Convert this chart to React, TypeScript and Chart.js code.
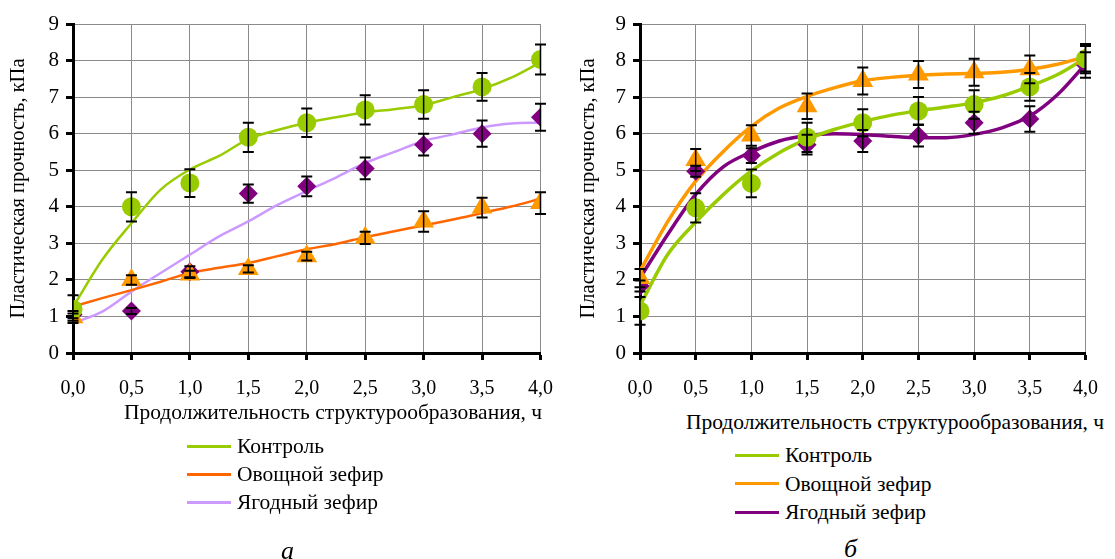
import React, { useEffect, useRef } from "react";
import { Chart, registerables } from "chart.js";

Chart.register(...registerables);

// ---------- data ----------
const xPoints = [0, 0.5, 1, 1.5, 2, 2.5, 3, 3.5, 4];
const xTrend = [0, 0.25, 0.5, 0.75, 1, 1.25, 1.5, 1.75, 2, 2.25, 2.5, 2.75, 3, 3.25, 3.5, 3.75, 4];

const seriesNames = ["Контроль", "Овощной зефир", "Ягодный зефир"];
const yAxisTitle = "Пластическая прочность, кПа";
const xAxisTitle = "Продолжительность структурообразования, ч";

// Panel а — measured points and error values
const aControl = [1.2, 4.0, 4.65, 5.9, 6.3, 6.65, 6.8, 7.28, 8.03];
const aControlErr = [0.38, 0.4, 0.38, 0.4, 0.39, 0.4, 0.39, 0.38, 0.41];
const aVeg = [0.98, 2.0, 2.15, 2.3, 2.65, 3.15, 3.6, 3.98, 4.1];
const aVegErr = [0.1, 0.13, 0.1, 0.1, 0.12, 0.17, 0.28, 0.27, 0.3];
const aBerry = [1.05, 1.15, 2.22, 4.36, 4.56, 5.05, 5.7, 6.0, 6.45];
const aBerryErr = [0.1, 0.08, 0.15, 0.25, 0.27, 0.3, 0.3, 0.36, 0.37];

// Panel а — trend lines
const aControlTrend = [1.26, 2.55, 3.55, 4.47, 5.02, 5.39, 5.85, 6.1, 6.3, 6.45, 6.58, 6.67, 6.78, 7.0, 7.22, 7.53, 7.95];
const aVegTrend = [1.27, 1.5, 1.72, 1.95, 2.19, 2.33, 2.46, 2.65, 2.84, 2.98, 3.17, 3.33, 3.49, 3.65, 3.83, 4.01, 4.22];
const aBerryTrend = [0.82, 1.13, 1.68, 2.19, 2.69, 3.19, 3.6, 4.05, 4.43, 4.8, 5.2, 5.5, 5.8, 5.98, 6.17, 6.28, 6.3];

// Panel б — measured points and error values
const bControl = [1.15, 3.97, 4.64, 5.9, 6.3, 6.62, 6.8, 7.28, 8.05];
const bControlErr = [0.38, 0.4, 0.38, 0.4, 0.37, 0.38, 0.39, 0.38, 0.4];
const bVeg = [2.05, 5.28, 5.95, 6.75, 7.44, 7.62, 7.68, 7.76, 8.05];
const bVegErr = [0.25, 0.3, 0.28, 0.35, 0.37, 0.37, 0.37, 0.38, 0.35];
const bBerry = [1.83, 4.97, 5.4, 5.7, 5.8, 5.95, 6.3, 6.4, 7.88];
const bBerryErr = [0.15, 0.15, 0.2, 0.27, 0.3, 0.3, 0.3, 0.35, 0.35];

// Panel б — trend lines
const bControlTrend = [1.3, 2.7, 3.58, 4.34, 4.98, 5.48, 5.85, 6.12, 6.33, 6.5, 6.63, 6.73, 6.85, 7.03, 7.3, 7.62, 8.07];
const bVegTrend = [2.24, 3.6, 4.7, 5.52, 6.2, 6.7, 7.02, 7.26, 7.45, 7.54, 7.6, 7.63, 7.65, 7.68, 7.76, 7.9, 8.1];
const bBerryTrend = [2.05, 3.25, 4.34, 5.1, 5.5, 5.8, 5.95, 6.0, 5.98, 5.93, 5.89, 5.89, 5.98, 6.16, 6.48, 7.07, 7.9];

// ---------- colours ----------
const GREEN = "#99CC00";
const ORANGE_MARK = "#FF9900";
const ORANGE_LINE_A = "#FF6600";
const LAVENDER = "#CC99FF";
const PURPLE = "#800080";

const FONT = "'Liberation Serif', 'DejaVu Serif', serif";

const toXY = (xs: number[], ys: number[]) => xs.map((x, i) => ({ x, y: ys[i] }));

const errorBarPlugin = {
  id: "errorBars",
  afterDatasetsDraw(chart: any) {
    const ctx = chart.ctx;
    const yScale = chart.scales.y;
    const xScale = chart.scales.x;
    ctx.save();
    ctx.strokeStyle = "#000";
    chart.data.datasets.forEach((ds: any) => {
      if (!ds.errors) return;
      ds.data.forEach((p: any, i: number) => {
        const e = ds.errors[i];
        if (!e) return;
        const px = xScale.getPixelForValue(p.x);
        const yt = yScale.getPixelForValue(p.y + e);
        const yb = yScale.getPixelForValue(p.y - e);
        ctx.lineWidth = 1.5;
        ctx.beginPath();
        ctx.moveTo(px, yt);
        ctx.lineTo(px, yb);
        ctx.stroke();
        ctx.lineWidth = 2;
        ctx.beginPath();
        ctx.moveTo(px - 5.5, yt);
        ctx.lineTo(px + 5.5, yt);
        ctx.moveTo(px - 5.5, yb);
        ctx.lineTo(px + 5.5, yb);
        ctx.stroke();
      });
    });
    ctx.restore();
  },
};

function makeConfig(
  points: { data: number[]; err: number[]; color: string; style: string; radius: number }[],
  trends: { data: number[]; color: string }[],
  lineWidth: number,
  yAxisWidth: number
) {
  const datasets: any[] = [];
  points.forEach((p) => {
    datasets.push({
      type: "line",
      data: toXY(xPoints, p.data),
      errors: p.err,
      showLine: false,
      pointStyle: p.style,
      pointRadius: p.radius,
      pointBackgroundColor: p.color,
      pointBorderColor: p.color,
      pointBorderWidth: 0,
      borderColor: p.color,
    });
  });
  trends.forEach((t) => {
    datasets.push({
      type: "line",
      data: toXY(xTrend, t.data),
      borderColor: t.color,
      borderWidth: lineWidth,
      pointRadius: 0,
      tension: 0.4,
      cubicInterpolationMode: "monotone",
      fill: false,
    });
  });
  return {
    type: "line",
    data: { datasets },
    plugins: [errorBarPlugin],
    options: {
      animation: false,
      responsive: false,
      events: [],
      layout: { padding: { top: 24, right: 21, left: 0, bottom: 0 } },
      plugins: { legend: { display: false }, tooltip: { enabled: false } },
      scales: {
        x: {
          type: "linear",
          min: 0,
          max: 4,
          afterFit: (s: any) => {
            s.height = 47;
          },
          ticks: {
            stepSize: 0.5,
            color: "#000",
            padding: 17,
            maxRotation: 0,
            font: { family: FONT, size: 20 },
            callback: (v: number) => v.toFixed(1).replace(".", ","),
          },
          grid: { color: "#8a8a8a", lineWidth: 1, tickColor: "#000", tickWidth: 3, tickLength: 7 },
          border: { display: true, color: "#000", width: 3 },
        },
        y: {
          min: 0,
          max: 9,
          afterFit: (s: any) => {
            s.width = yAxisWidth;
          },
          ticks: {
            stepSize: 1,
            color: "#000",
            padding: 7,
            font: { family: FONT, size: 21 },
          },
          title: {
            display: true,
            text: yAxisTitle,
            color: "#000",
            padding: { top: 6, bottom: 0 },
            font: { family: FONT, size: 20.5, weight: "normal" },
          },
          grid: { color: "#8a8a8a", lineWidth: 1, tickColor: "#000", tickWidth: 3, tickLength: 7 },
          border: { display: true, color: "#000", width: 3 },
        },
      },
    },
  };
}

function ChartCanvas({ config, left, width }: { config: any; left: number; width: number }) {
  const ref = useRef<HTMLCanvasElement>(null);
  useEffect(() => {
    if (!ref.current) return;
    const chart = new Chart(ref.current, config);
    return () => chart.destroy();
  }, []);
  return (
    <canvas
      ref={ref}
      width={width}
      height={400}
      style={{ position: "absolute", left, top: 0, width, height: 400 }}
    />
  );
}

const textStyle: React.CSSProperties = {
  position: "absolute",
  fontFamily: FONT,
  fontSize: 21.5,
  color: "#000",
  whiteSpace: "nowrap",
  lineHeight: "26px",
};

function Legend({ left, top, colors, gap }: { left: number; top: number; colors: string[]; gap: number }) {
  return (
    <>
      {seriesNames.map((n, i) => (
        <React.Fragment key={n}>
          <div
            style={{
              position: "absolute",
              left,
              top: top + i * gap - 1.5,
              width: 44,
              height: 3,
              background: colors[i],
            }}
          />
          <div style={{ ...textStyle, left: left + 50, top: top + i * gap - 13 }}>{n}</div>
        </React.Fragment>
      ))}
    </>
  );
}

export default function App() {
  useEffect(() => {
    document.body.style.margin = "0";
  }, []);

  const configA = makeConfig(
    [
      { data: aControl, err: aControlErr, color: GREEN, style: "circle", radius: 9.5 },
      { data: aVeg, err: aVegErr, color: ORANGE_MARK, style: "triangle", radius: 12 },
      { data: aBerry, err: aBerryErr, color: PURPLE, style: "rectRot", radius: 9.5 },
    ],
    [
      { data: aControlTrend, color: GREEN },
      { data: aVegTrend, color: ORANGE_LINE_A },
      { data: aBerryTrend, color: LAVENDER },
    ],
    2.5,
    73
  );

  const configB = makeConfig(
    [
      { data: bControl, err: bControlErr, color: GREEN, style: "circle", radius: 9.5 },
      { data: bVeg, err: bVegErr, color: ORANGE_MARK, style: "triangle", radius: 12 },
      { data: bBerry, err: bBerryErr, color: PURPLE, style: "rectRot", radius: 9.5 },
    ],
    [
      { data: bControlTrend, color: GREEN },
      { data: bVegTrend, color: ORANGE_MARK },
      { data: bBerryTrend, color: PURPLE },
    ],
    3.5,
    70
  );

  return (
    <div style={{ position: "relative", width: 1115, height: 559, background: "#fff", overflow: "hidden" }}>
      <ChartCanvas config={configA} left={0} width={570} />
      <ChartCanvas config={configB} left={570} width={545} />

      <div style={{ ...textStyle, left: 333, top: 399, transform: "translateX(-50%)" }}>{xAxisTitle}</div>
      <div style={{ ...textStyle, left: 895, top: 409, transform: "translateX(-50%)" }}>{xAxisTitle}</div>

      <Legend left={187} top={446} colors={[GREEN, ORANGE_LINE_A, LAVENDER]} gap={28} />
      <Legend left={735} top={455} colors={[GREEN, ORANGE_MARK, PURPLE]} gap={28.5} />

      <div style={{ ...textStyle, left: 281, top: 536, fontSize: 26, fontStyle: "italic", lineHeight: "30px" }}>а</div>
      <div style={{ ...textStyle, left: 844, top: 534, fontSize: 26, fontStyle: "italic", lineHeight: "30px" }}>б</div>
    </div>
  );
}
